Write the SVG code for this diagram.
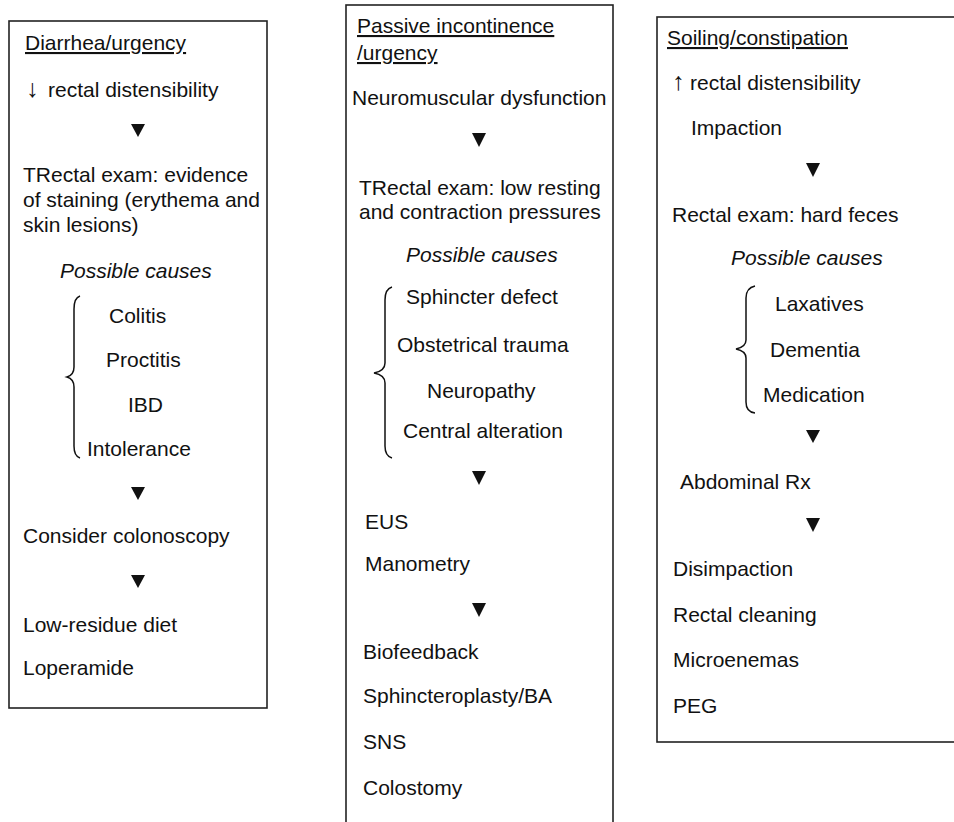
<svg xmlns="http://www.w3.org/2000/svg" width="954" height="822" viewBox="0 0 954 822">
<style>
text{font-family:"Liberation Sans",Arial,sans-serif;font-size:21px;fill:#111}
.u{text-decoration:underline}
.i{font-style:italic}
.ar{font-size:25px}
.box{fill:none;stroke:#222;stroke-width:1.6}
.brace{fill:none;stroke:#111;stroke-width:1.5}
.arr{fill:#111}
</style>
<rect width="954" height="822" fill="#fff"/>
<g id="box-diarrhea">
<rect class="box" x="9" y="21" width="258" height="687"/>
<text class="u" x="25" y="50">Diarrhea/urgency</text>
<text x="26" y="97"><tspan class="ar">↓</tspan><tspan x="48">rectal distensibility</tspan></text>
<text x="23" y="182">TRectal exam: evidence</text>
<text x="23" y="207">of staining (erythema and</text>
<text x="23" y="232">skin lesions)</text>
<text class="i" x="60" y="278">Possible causes</text>
<path class="brace" d="M80 296 Q74 298 74 309 L74 367 Q74 375 67 377 Q74 379 74 387 L74 446 Q74 456 80 458"/>
<text x="109" y="323">Colitis</text>
<text x="106" y="367">Proctitis</text>
<text x="128" y="412">IBD</text>
<text x="87" y="456">Intolerance</text>
<text x="23" y="543">Consider colonoscopy</text>
<text x="23" y="632">Low-residue diet</text>
<text x="23" y="675">Loperamide</text>
</g>
<g id="box-passive">
<rect class="box" x="346" y="5" width="267" height="830"/>
<text class="u" x="357" y="33">Passive incontinence</text>
<text class="u" x="357" y="60">/urgency</text>
<text x="352" y="105">Neuromuscular dysfunction</text>
<text x="359" y="195">TRectal exam: low resting</text>
<text x="359" y="219">and contraction pressures</text>
<text class="i" x="406" y="262">Possible causes</text>
<path class="brace" d="M392 287 Q385 289 385 300 L385 363 Q385 371 374 373 Q385 375 385 383 L385 446 Q385 456 392 458"/>
<text x="406" y="304">Sphincter defect</text>
<text x="397" y="352">Obstetrical trauma</text>
<text x="427" y="398">Neuropathy</text>
<text x="403" y="438">Central alteration</text>
<text x="365" y="529">EUS</text>
<text x="365" y="571">Manometry</text>
<text x="363" y="659">Biofeedback</text>
<text x="363" y="703">Sphincteroplasty/BA</text>
<text x="363" y="749">SNS</text>
<text x="363" y="795">Colostomy</text>
</g>
<g id="box-soiling">
<rect class="box" x="657" y="17" width="310" height="725"/>
<text class="u" x="667" y="45">Soiling/constipation</text>
<text x="672" y="90"><tspan class="ar">↑</tspan><tspan x="690">rectal distensibility</tspan></text>
<text x="691" y="135">Impaction</text>
<text x="672" y="222">Rectal exam: hard feces</text>
<text class="i" x="731" y="265">Possible causes</text>
<path class="brace" d="M755 286 Q746 288 746 298 L746 340 Q746 347 736 349 Q746 351 746 358 L746 402 Q746 412 755 413"/>
<text x="775" y="311">Laxatives</text>
<text x="770" y="357">Dementia</text>
<text x="763" y="402">Medication</text>
<text x="680" y="489">Abdominal Rx</text>
<text x="673" y="576">Disimpaction</text>
<text x="673" y="622">Rectal cleaning</text>
<text x="673" y="667">Microenemas</text>
<text x="673" y="713">PEG</text>
</g>
<g id="connectors">
<polygon class="arr" points="131,124 145,124 138,137"/>
<polygon class="arr" points="131,487 145,487 138,500"/>
<polygon class="arr" points="131,575 145,575 138,588"/>
<polygon class="arr" points="472,133 486,133 479,147"/>
<polygon class="arr" points="472,471 486,471 479,485"/>
<polygon class="arr" points="472,603 486,603 479,617"/>
<polygon class="arr" points="806,163 820,163 813,177"/>
<polygon class="arr" points="806,430 820,430 813,443"/>
<polygon class="arr" points="806,518 820,518 813,532"/>
</g>
</svg>
